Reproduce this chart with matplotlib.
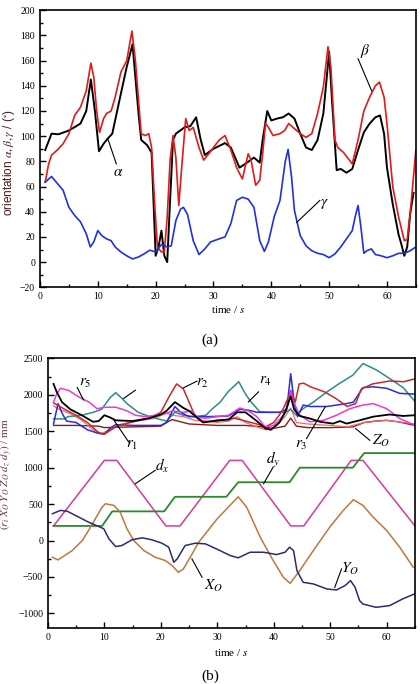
import matplotlib
matplotlib.use('Agg')
import matplotlib.pyplot as plt
from matplotlib.ticker import MultipleLocator

plt.rcParams['font.family'] = ['Liberation Serif', 'DejaVu Serif']
plt.rcParams['mathtext.fontset'] = 'stix'

# ---- (a) orientation ----
t_alpha = [0.9, 2, 3.2, 5, 7, 8, 8.8, 9.5, 10.2, 11, 11.7, 12.5, 14, 15, 16, 17, 17.5, 18.5, 19.3,
           20, 20.5, 21, 21.5, 22, 22.5, 23, 23.5, 25, 26, 27, 27.8, 28.5, 30, 32, 33, 34.5, 35.5,
           37, 38, 38.5, 39.3, 40, 41, 42, 43, 44, 45, 46, 47, 48, 49, 50, 50.5, 51.3, 52, 53,
           54, 55, 56, 57, 58, 58.8, 59.5, 60, 61, 62, 62.5, 63, 63.5, 64, 64.6]
alpha = [89, 102, 101.5, 104.5, 110, 120, 145, 120, 88, 94, 98, 102, 134, 155, 173, 120, 97, 93, 87,
         5, 12, 25, 5, 0, 49, 97, 102, 107, 108, 115, 97, 85, 90, 94.5, 91, 75, 78,
         83, 79, 97, 120, 112.5, 114, 115, 118, 114, 102, 91, 89, 97, 118, 167, 128, 73, 74, 71,
         74, 89, 103, 110, 115, 116.5, 102, 75, 46, 22, 14, 5, 12, 38, 55]

t_beta = [0.9, 1.5, 2, 3, 4, 5, 6, 7, 8, 8.8, 9.3, 9.8, 10.3, 11, 11.5, 12.3, 13, 14, 15, 15.9,
          16.5, 17, 17.5, 18.2, 18.8, 19.3, 19.8, 20.3, 21, 21.5, 22, 22.5, 23, 23.5, 24, 24.5,
          25.2, 25.8, 26.5, 27.5, 28.3, 29, 30, 31, 32, 33, 34, 35, 36, 36.5, 37.3, 38, 38.5, 39,
          39.5, 40.3, 41.5, 42.3, 43, 44, 45, 46, 47, 48, 49, 49.8, 50.3, 51, 51.5, 52.5, 54, 55,
          56, 57, 58, 58.7, 59.5, 60, 61, 62, 63, 63.5, 64, 65]
beta = [63.5, 78, 85, 89, 94, 102, 116.5, 123, 136, 158, 147, 120, 103, 114, 118, 120, 131, 151,
        160, 183.5, 160, 131, 102, 100.5, 102, 91, 49, 12, 8, 8, 36, 81, 100.5, 83, 45, 75,
        114, 104.5, 107, 91, 81, 85, 91, 97, 100.5, 89, 75, 66, 86, 81, 61, 65, 86, 110,
        107, 100.5, 102, 104.5, 110, 106, 102, 99, 102, 118, 139, 171, 155, 97, 91, 87, 78, 97,
        120, 131, 140, 143, 131, 110, 60, 36, 17, 18, 38, 89]

t_gamma = [0.9, 2, 3, 4, 5, 6, 7, 8, 8.7, 9.3, 10, 10.7, 11.5, 12.3, 13, 14, 15, 16, 17, 18, 19,
           20, 21, 22, 22.7, 23.5, 24.3, 24.8, 25.5, 26.5, 27.5, 28.5, 29.5, 31, 32, 33, 34, 35,
           36, 37, 38, 38.8, 39.5, 40.5, 41.5, 42.4, 42.9, 43.5, 44, 45, 46, 47, 48, 49, 50, 51,
           52, 53, 54, 54.5, 55, 55.5, 56, 56.5, 57.3, 58, 59, 60, 61, 62, 63, 64, 65]
gamma = [63.5, 68, 62.5, 57, 43.5, 37, 32, 22.5, 12, 16, 25, 21, 18.5, 17, 12, 8, 5, 2.5, 4, 6.5,
         9.5, 8, 14, 12, 13, 33, 42, 43.5, 38, 17, 6, 10.5, 16, 18.5, 20, 30.5, 49, 51.5,
         50, 43.5, 17, 8.5, 16, 36, 49, 79.5, 89.5, 67.5, 41, 21, 13, 9, 7, 6, 3.5, 6.5,
         12, 18.5, 25, 36, 45, 27.5, 7, 9, 10.5, 6, 5, 3.5, 5, 7, 7, 9, 12]

# ---- (b) positions / lengths ----
t_dx = [1, 10, 12.2, 20.9, 23.4, 32.2, 34.4, 43, 45.3, 53.7, 55.8, 65]
dx = [200, 1100, 1100, 200, 200, 1100, 1100, 200, 200, 1100, 1100, 200]

t_dy = [1, 9.6, 11.4, 20.6, 22.5, 31.6, 33.7, 42.8, 44.6, 54, 56, 65]
dy = [200, 200, 400, 400, 600, 600, 800, 800, 1000, 1000, 1200, 1200]

t_xo = [0.8, 1.8, 4.3, 6.1, 7.2, 8.4, 9.6, 10.2, 11.7, 12.8, 14, 15.2, 17, 19, 20.8, 22, 23.1, 24,
        25.2, 26.7, 30, 33.7, 35.2, 37.6, 39.9, 41.7, 42.9, 44.6, 47, 49.9, 52.3, 54.1, 55.8,
        57.6, 60, 62.3, 64.7]
xo = [-230, -266, -138, 0, 138, 298, 458, 505, 481, 389, 161, 0, -138, -230, -275, -344, -436, -390,
      -230, -24, 300, 600, 458, 45, -275, -505, -588, -413, -138, 183, 413, 560, 481,
      320, 137, -92, -368]

t_yo = [0.8, 2.2, 3.4, 5.5, 7.2, 9, 9.9, 10.8, 12, 13.1, 14.9, 16.7, 18.4, 20.2, 21.4, 22.3, 22.9,
        24.3, 26.1, 27.9, 30.2, 32.3, 33.7, 35.8, 38.2, 40.5, 42, 42.8, 43.5, 44.1, 45.2, 47,
        49.4, 51.1, 52.6, 53.6, 54.4, 55.2, 55.8, 58.1, 60.5, 62.8, 64.9]
yo = [367, 413, 403, 320, 252, 192, 161, 24, -83, -69, 10, 37, 10, -37, -92, -299, -252,
      -69, -37, -46, -128, -207, -238, -161, -161, -193, -161, -92, -138, -413, -574, -596,
      -665, -679, -620, -551, -643, -826, -872, -917, -894, -803, -734]

t_r1 = [1, 1.5, 2.5, 4, 6, 8, 9, 10, 11, 12, 15, 18, 20, 21, 22.5, 24, 25, 26.5, 27.5, 30, 32,
        33.5, 35, 37, 38.5, 39.5, 41, 42, 43, 43.6, 44.6, 46.4, 48.2, 50.5, 51.7, 52.9, 55.2,
        57.6, 60.5, 62.9, 65]
r1 = [2150, 2050, 1900, 1800, 1720, 1630, 1640, 1720, 1690, 1650, 1640, 1680, 1730, 1780, 1900,
      1820, 1780, 1680, 1620, 1650, 1660, 1760, 1760, 1640, 1540, 1520, 1620, 1760, 1980, 1800,
      1710, 1675, 1630, 1605, 1640, 1605, 1650, 1700, 1730, 1710, 1720]

t_r2 = [1, 3, 5, 7, 9, 10, 12, 15, 18, 20, 21.5, 22.8, 24, 25, 26, 27.5, 30, 33, 35, 37, 38.5, 40,
        41.5, 42.5, 43, 43.8, 44.5, 45.3, 46.5, 49, 51, 53, 54.5, 55.5, 57.5, 60.5, 63, 65]
r2 = [1890, 1800, 1720, 1620, 1480, 1460, 1560, 1630, 1680, 1760, 1980, 2150, 2080, 1900, 1720,
      1630, 1640, 1680, 1640, 1600, 1560, 1620, 1780, 1950, 2060, 1900, 2150, 2160, 2110, 2040,
      1950, 1840, 1880, 2080, 2150, 2190, 2180, 2220]

t_r3 = [1, 1.8, 2.5, 3.3, 5, 7, 9, 10, 11, 12, 15, 20, 21, 22.5, 23.5, 25, 28, 32, 34, 35.5, 37,
        41, 42.3, 43, 43.6, 44.2, 45.2, 46.4, 49.4, 52.9, 54.1, 55.8, 57.6, 60, 62.3, 65]
r3 = [1600, 1880, 1750, 1640, 1620, 1520, 1470, 1460, 1540, 1590, 1580, 1580, 1620, 1840, 1760,
      1700, 1700, 1710, 1800, 1790, 1760, 1760, 1800, 2290, 1900, 1700, 1860, 1840, 1840, 1880,
      1900, 2100, 2110, 2090, 2020, 2010]

t_r4 = [1, 3, 3.5, 6, 8, 9.5, 11, 12, 13, 14, 16, 18, 20, 21, 22.5, 24, 26, 28, 29, 30.5, 32, 33.8,
        35, 36, 37.5, 39, 42, 43, 44, 45, 47, 49.4, 51.7, 54, 55.8, 58.2, 60.5, 62.9, 65]
r4 = [1670, 1670, 1700, 1720, 1760, 1800, 1960, 2030, 1960, 1880, 1760, 1700, 1660, 1640, 1760,
      1720, 1700, 1720, 1800, 1900, 2050, 2180, 2010, 1900, 1770, 1760, 1760, 1800, 1720, 1800,
      1900, 2040, 2160, 2270, 2430, 2340, 2225, 2100, 1910]

t_r5 = [1, 1.5, 2.2, 3.7, 5.5, 7.3, 8.7, 10.2, 12, 13.7, 15.5, 17.3, 19, 20.8, 22, 24, 25.5, 26.5,
        28, 30, 32, 34, 35.5, 37, 38.5, 40, 41.5, 42.5, 43, 43.5, 44.6, 46.4, 48.8, 51.1, 53.5,
        55.8, 57.6, 60, 62.3, 65]
r5 = [1900, 2000, 2090, 2060, 1970, 1900, 1810, 1830, 1830, 1790, 1720, 1700, 1720, 1740, 1780,
      1760, 1780, 1690, 1680, 1700, 1720, 1820, 1780, 1700, 1560, 1580, 1700, 1850, 2050, 1900,
      1720, 1630, 1650, 1720, 1810, 1860, 1880, 1810, 1675, 1580]

t_r6 = [1, 2, 4, 6, 8, 9.5, 11, 13, 16, 19, 21, 22, 24, 26, 28, 30, 32, 33.5, 35, 37, 38.5, 40, 41,
        42, 43, 44, 46, 50, 53, 56, 60, 65]
r6 = [1850, 1800, 1740, 1650, 1520, 1470, 1520, 1600, 1640, 1680, 1750, 1720, 1700, 1650, 1640,
      1620, 1640, 1700, 1620, 1560, 1520, 1540, 1620, 1700, 1820, 1620, 1600, 1580, 1560, 1620,
      1650, 1600]

t_zo = [1, 5, 9, 10, 15, 20, 21, 22, 23.5, 25, 30, 35, 38, 40, 42, 43, 44, 46, 50, 54, 56, 58, 60,
        62, 65]
zo = [1580, 1580, 1570, 1550, 1560, 1570, 1620, 1660, 1630, 1600, 1580, 1580, 1560, 1540, 1570,
      1680, 1570, 1550, 1550, 1560, 1620, 1640, 1650, 1630, 1580]

fig = plt.figure(figsize=(4.2, 6.84), dpi=100)
ax1 = fig.add_axes([0.0952, 0.580, 0.895, 0.405])
ax2 = fig.add_axes([0.114, 0.082, 0.874, 0.394])

ax1.plot(t_alpha, alpha, color='black', lw=1.4)
ax1.plot(t_beta, beta, color='#e01a1a', lw=1.2)
ax1.plot(t_gamma, gamma, color='#2030e0', lw=1.2)
ax1.set_xlim(0, 65)
ax1.set_ylim(-20, 200)
ax1.xaxis.set_major_locator(MultipleLocator(10))
ax1.xaxis.set_minor_locator(MultipleLocator(5))
ax1.yaxis.set_major_locator(MultipleLocator(20))
ax1.yaxis.set_minor_locator(MultipleLocator(10))
ax1.set_xlabel('time / $s$', fontsize=8, labelpad=2)
ax1.set_ylabel(r'orientation $\alpha,\beta,\gamma$ / ($^{\circ}$)', fontsize=8.5,
               family=['Liberation Sans', 'DejaVu Sans'], color='#4a1a1a')
ax1.yaxis.set_label_coords(-0.062, 0.45)

ax1.plot([11.8, 13.2], [97, 78], color='black', lw=0.8)
ax1.text(13.6, 71, r'$\alpha$', fontsize=11, ha='center', va='center')
ax1.plot([55, 57.35], [161.5, 136], color='black', lw=0.8)
ax1.text(56.3, 168, r'$\beta$', fontsize=11, ha='center', va='center')
ax1.plot([48.4, 44.4], [49, 31.5], color='black', lw=0.8)
ax1.text(49.1, 46.5, r'$\gamma$', fontsize=11, ha='center', va='center')

ax2.plot(t_zo, zo, color='#8b1a1a', lw=1.0)
ax2.plot(t_r6, r6, color='#f06a6a', lw=0.9)
ax2.plot(t_r4, r4, color='#2e8b8b', lw=1.1)
ax2.plot(t_r3, r3, color='#2a2ae0', lw=1.1)
ax2.plot(t_r2, r2, color='#c82828', lw=1.1)
ax2.plot(t_r5, r5, color='#e83ad8', lw=1.1)
ax2.plot(t_r1, r1, color='black', lw=1.3)
ax2.plot(t_dx, dx, color='#d83a9a', lw=1.1)
ax2.plot(t_dy, dy, color='#2a8a2a', lw=1.3)
ax2.plot(t_xo, xo, color='#c0783a', lw=1.1)
ax2.plot(t_yo, yo, color='#2a2a78', lw=1.1)
ax2.set_xlim(0, 65)
ax2.set_ylim(-1200, 2500)
ax2.xaxis.set_major_locator(MultipleLocator(10))
ax2.xaxis.set_minor_locator(MultipleLocator(5))
ax2.yaxis.set_major_locator(MultipleLocator(500))
ax2.yaxis.set_minor_locator(MultipleLocator(250))
ax2.set_xlabel('time / $s$', fontsize=8, labelpad=4)
ax2.set_ylabel(r'$(r_i\ X_O\ Y_O\ Z_O\ d_z\ d_y)$ / mm', fontsize=8, color='#6a3050')
ax2.yaxis.set_label_coords(-0.09, 0.57)

leaders = [
    ([5.2, 6.3], [2100, 1930], r'$r_5$', 6.6, 2160),
    ([26.4, 24.0], [2188, 2096], r'$r_2$', 27.4, 2160),
    ([37.3, 35.5], [2041, 1903], r'$r_4$', 38.5, 2190),
    ([15.5, 13.4], [2064, 1950], '', 0, 0),
    ([11.7, 14.3], [1651, 1353], r'$r_1$', 14.9, 1300),
    ([45.8, 49.1], [1399, 1834], r'$r_3$', 44.9, 1300),
    ([57.0, 54.5], [1376, 1537], r'$Z_O$', 58.9, 1370),
    ([19.0, 15.5], [963, 780], r'$d_x$', 20.3, 1020),
    ([39.9, 38.2], [1009, 780], r'$d_y$', 39.9, 1100),
    ([27.3, 25.5], [-505, -252], r'$X_O$', 29.3, -620),
    ([52.0, 50.8], [-390, -643], r'$Y_O$', 53.5, -390),
]
for lx, ly, lab, tx, ty in leaders:
    ax2.plot(lx, ly, color='black', lw=0.8)
    if lab:
        ax2.text(tx, ty, lab, fontsize=11, ha='center', va='center')

for ax in (ax1, ax2):
    ax.tick_params(which='both', direction='in', top=False, right=False, labelsize=7, width=1.0)
    ax.tick_params(which='major', length=4)
    ax.tick_params(which='minor', length=2)
    for s in ax.spines.values():
        s.set_linewidth(1.2)

fig.text(0.5, 0.503, '(a)', ha='center', va='center', fontsize=11)
fig.text(0.5, 0.012, '(b)', ha='center', va='center', fontsize=11)

fig.savefig('out.png', dpi=100)
